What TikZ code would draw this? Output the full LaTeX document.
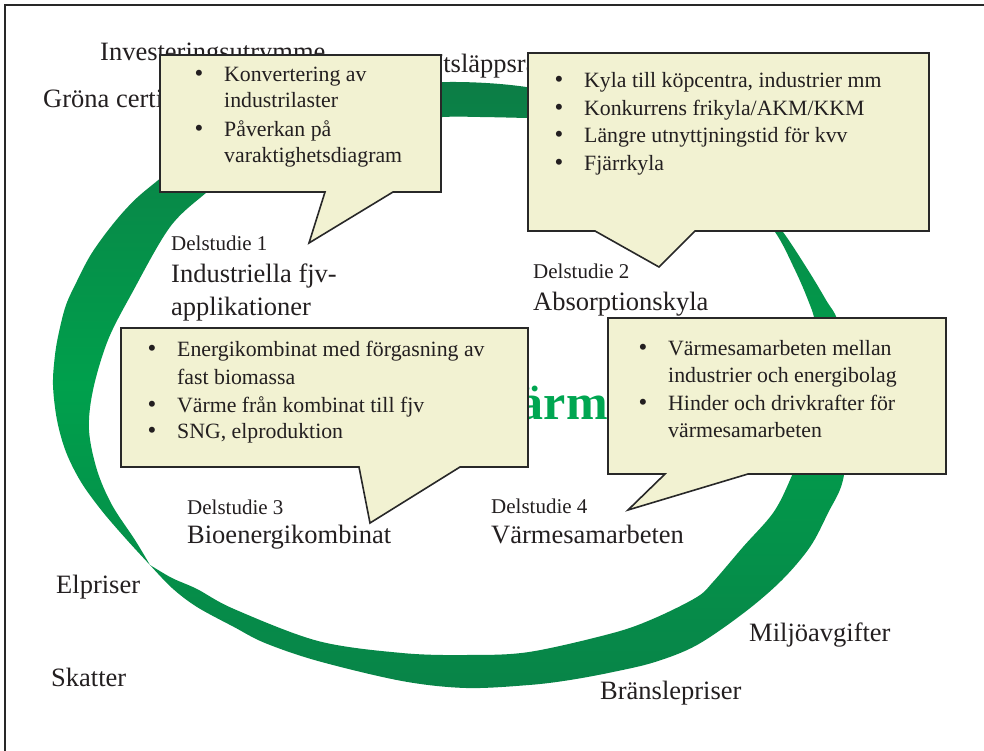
\documentclass[tikz,border=0pt]{standalone}
\usepackage{fontspec}
\setmainfont{Liberation Serif}
\definecolor{ink}{RGB}{35,31,32}
\definecolor{cfill}{RGB}{242,242,210}
\definecolor{cline}{RGB}{40,40,40}
\definecolor{gtop}{RGB}{12,125,70}
\definecolor{gmid}{RGB}{0,160,76}
\definecolor{gbot}{RGB}{8,132,72}
\definecolor{gtext}{RGB}{0,166,81}
\tikzset{
  lbl/.style={font=\fontsize{26.5}{30}\selectfont, text=ink, anchor=base west, inner sep=0pt},
  dlab/.style={font=\fontsize{21}{24}\selectfont, text=ink, anchor=base west, inner sep=0pt},
  ctxt/.style={font=\fontsize{21.8}{26}\selectfont, text=ink, anchor=base west, inner sep=0pt},
  bul/.style={font=\fontsize{25}{26}\selectfont, text=ink, anchor=base, inner sep=0pt},
  callout/.style={draw=cline, fill=cfill, line width=1.6pt, line join=miter},
  frame/.style={draw=cline, line width=1.8pt},
}
\begin{document}
\begin{tikzpicture}[x=1pt,y=-1pt]
\useasboundingbox (0,0) rectangle (984,751);
\fill[white] (0,0) rectangle (984,751);
% frame (right and bottom sides lie outside the picture)
\draw[frame] (5,751) -- (5,5) -- (984,5);

% green ring
\shade[top color=gtop, bottom color=gbot, middle color=gmid]
  plot[smooth, tension=0.55] coordinates {
   (150,565) (127,540) (102,511) (81,482) (66,452) (57,420) (53,385) (55,355)
   (59,332) (66,305) (77,281) (90,256) (106,233) (125,210) (146,190) (195,153)
   (252,123) (314,100) (381,87) (450,82) (519,86) (590,100) (660,128) (720,170)
   (760,205) (783,232) (808,270) (826,300) (838,322) (846,370) (848,425) (843,480)
   (828,513) (810,547) (782,580) (745,612) (697,645) (655,662) (613,672) (570,680)
   (529,685) (466,688) (402,681) (318,661) (265,643) (234,627) (197,607) (172,588)
   (150,565)}
  -- plot[smooth, tension=0.55] coordinates {
   (150,565) (172,578) (197,589) (234,609) (318,641) (402,653) (466,655) (529,652)
   (613,633) (655,618) (697,597) (713,582) (743,547) (773,513) (790,480) (805,440)
   (815,400) (818,360) (815,322) (808,300) (795,270) (775,232) (745,200) (700,165)
   (630,132) (565,119) (527,118) (480,117) (443,117) (380,122) (300,140) (240,165)
   (207,192) (170,227) (132,293) (108,340) (93,390) (89,430) (97,470) (112,505)
   (135,540) (150,565)} -- cycle;

% green title (mostly hidden by the callouts)
\node[font=\fontsize{50}{55}\selectfont\bfseries, text=gtext, anchor=base east, inner sep=0pt] (title) at (608,419) {ärm};

% outside labels that are partly covered
\node[lbl] (inv) at (100,61) {Investeringsutrymme};
\node[lbl] (gron) at (43,108) {Gröna certifikat};
\node[lbl] (utsl) at (424,73) {Utsläppsrätter};

% callouts
\draw[callout] (160,55) -- (441,55) -- (441,192) -- (393,192) -- (309,243) -- (325,192) -- (160,192) -- cycle;
\draw[callout] (528,53) -- (929,53) -- (929,231) -- (695,231) -- (659,267) -- (595,231) -- (528,231) -- cycle;
\draw[callout] (121,328) -- (528,328) -- (528,467) -- (460,467) -- (370,523) -- (359,467) -- (121,467) -- cycle;
\draw[callout] (608,318) -- (946,318) -- (946,474) -- (748,474) -- (628,510) -- (665,474) -- (608,474) -- cycle;

% callout 1 text
\node[bul] (b1a) at (199,82) {•};
\node[ctxt] (t1a) at (224,82) {Konvertering av};
\node[ctxt] (t1b) at (224,108) {industrilaster};
\node[bul] (b1b) at (199,137) {•};
\node[ctxt] (t1c) at (224,137) {Påverkan på};
\node[ctxt] (t1d) at (224,163) {varaktighetsdiagram};

% callout 2 text
\node[bul] (b2a) at (559,88) {•};
\node[ctxt] (t2a) at (584,88) {Kyla till köpcentra, industrier mm};
\node[bul] (b2b) at (559,116) {•};
\node[ctxt] (t2b) at (584,116) {Konkurrens frikyla/AKM/KKM};
\node[bul] (b2c) at (559,143) {•};
\node[ctxt] (t2c) at (584,143) {Längre utnyttjningstid för kvv};
\node[bul] (b2d) at (559,171) {•};
\node[ctxt] (t2d) at (584,171) {Fjärrkyla};

% callout 3 text
\node[bul] (b3a) at (152,356) {•};
\node[ctxt] (t3a) at (177,356) {Energikombinat med förgasning av};
\node[ctxt] (t3b) at (177,384) {fast biomassa};
\node[bul] (b3b) at (152,412) {•};
\node[ctxt] (t3c) at (177,412) {Värme från kombinat till fjv};
\node[bul] (b3c) at (152,438) {•};
\node[ctxt] (t3d) at (177,438) {SNG, elproduktion};

% callout 4 text
\node[bul] (b4a) at (643,355) {•};
\node[ctxt] (t4a) at (668,355) {Värmesamarbeten mellan};
\node[ctxt] (t4b) at (668,382) {industrier och energibolag};
\node[bul] (b4b) at (643,410) {•};
\node[ctxt] (t4c) at (668,410) {Hinder och drivkrafter för};
\node[ctxt] (t4d) at (668,437) {värmesamarbeten};

% sub-study labels
\node[dlab] (d1) at (171,251) {Delstudie 1};
\node[lbl] (d1t) at (171,282) {Industriella fjv-};
\node[lbl] (d1u) at (171,315) {applikationer};
\node[dlab] (d2) at (533,278) {Delstudie 2};
\node[lbl] (d2t) at (533,310) {Absorptionskyla};
\node[dlab] (d3) at (187,514) {Delstudie 3};
\node[lbl] (d3t) at (187,543) {Bioenergikombinat};
\node[dlab] (d4) at (491,513) {Delstudie 4};
\node[lbl] (d4t) at (491,543) {Värmesamarbeten};

% outer factor labels
\node[lbl] (elp) at (56,593) {Elpriser};
\node[lbl] (ska) at (51,686) {Skatter};
\node[lbl] (mil) at (749,641) {Miljöavgifter};
\node[lbl] (bra) at (600,699) {Bränslepriser};
\end{tikzpicture}
\end{document}
